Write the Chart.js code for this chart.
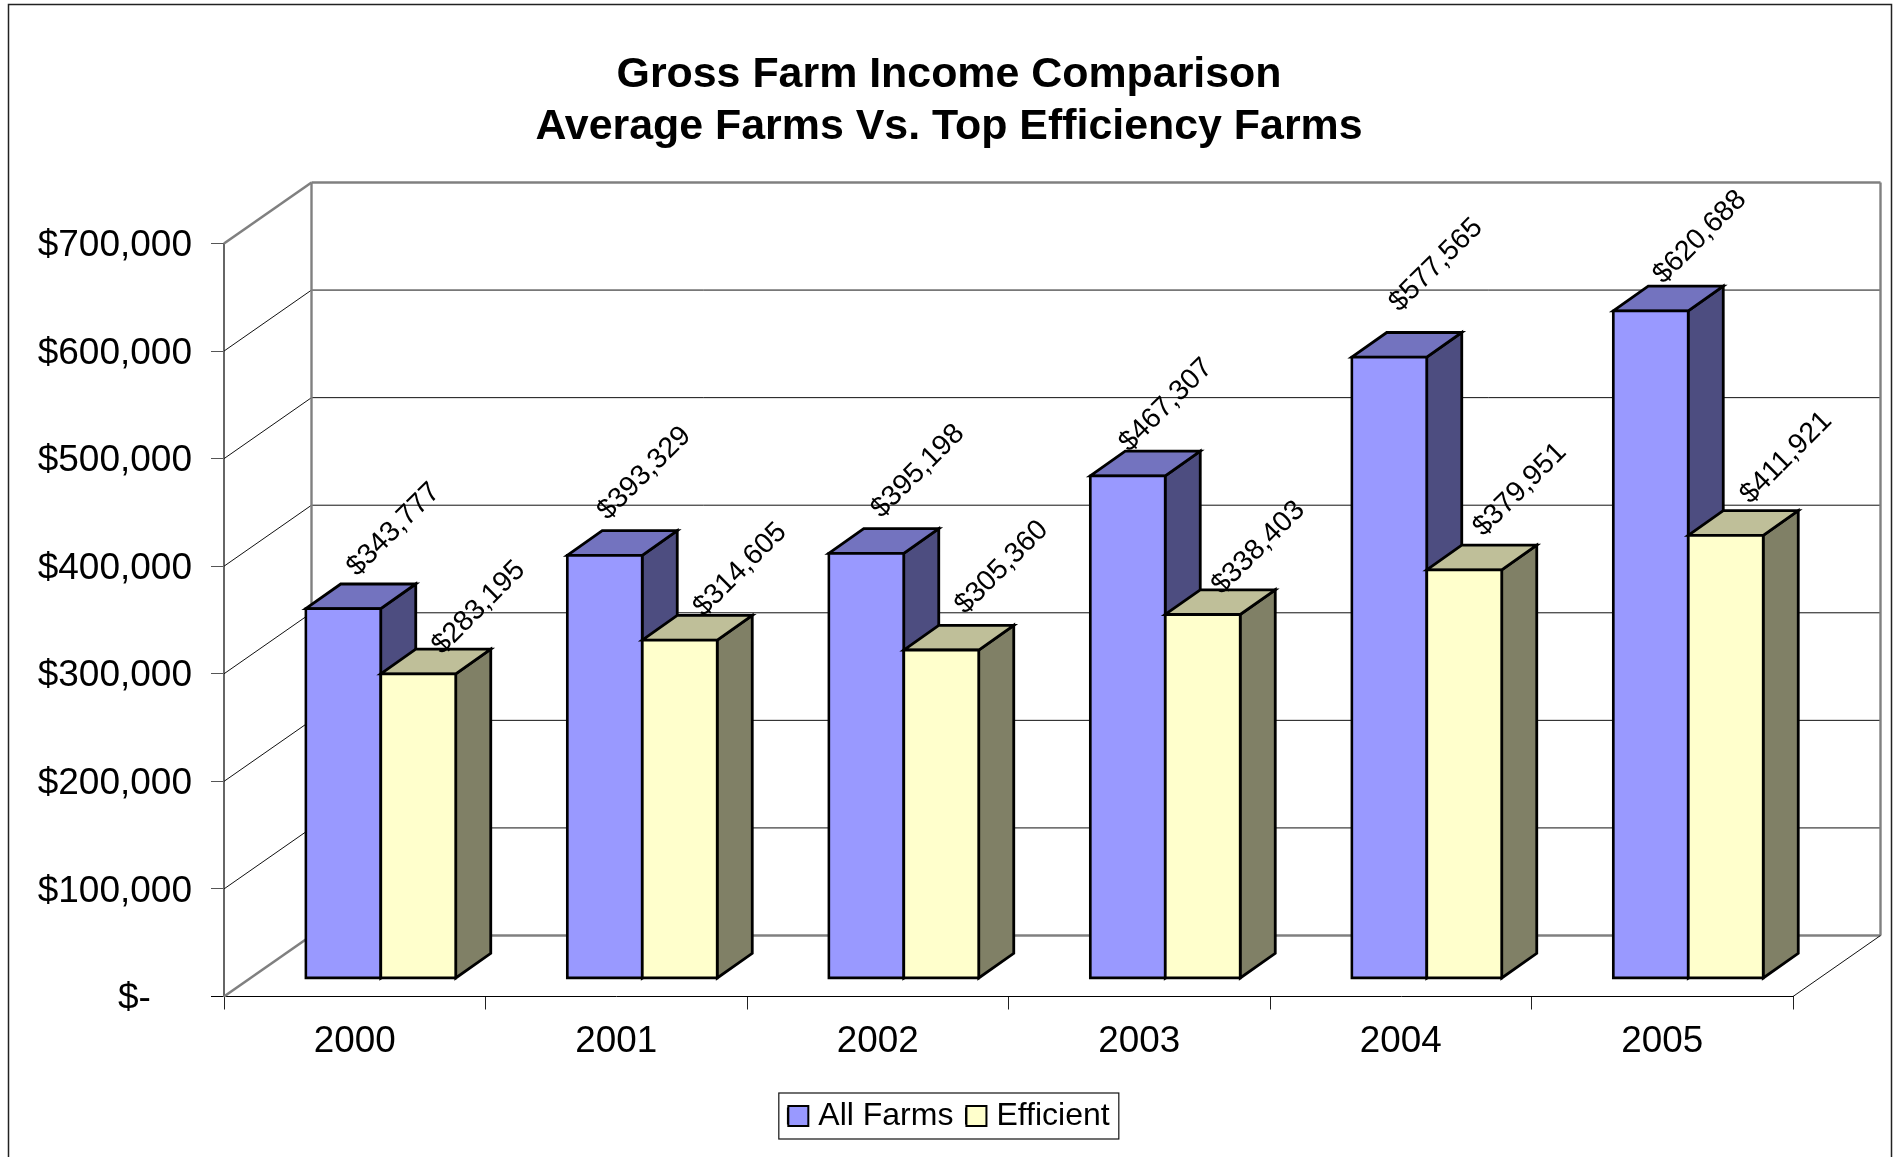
<!DOCTYPE html>
<html><head><meta charset="utf-8">
<style>html,body{margin:0;padding:0;background:#fff}canvas{display:block}</style>
<script src="https://cdn.jsdelivr.net/npm/chart.js@4"></script>
</head><body>
<div style="width:1898px;height:1157px"><canvas id="c" width="1898" height="1157"></canvas></div>
<script>
const years = ['2000','2001','2002','2003','2004','2005'];
const allFarms = [343777,393329,395198,467307,577565,620688];
const efficient = [283195,314605,305360,338403,379951,411921];
const titleLines = ['Gross Farm Income Comparison','Average Farms Vs. Top Efficiency Farms'];
const seriesNames = ['All Farms','Efficient'];
const tickStep = 100000, axisMax = 700000;

const FONT = '"Liberation Sans", Arial, sans-serif';
const WALL = {dx:87.5, dy:-61};     // depth of the floor / side wall
const FRONT = {dx:26, dy:-18};      // front plane of the columns
const BAR = {dx:35, dy:-24.7};      // depth of a column
const FACES = [
  {front:'#9999FF', side:'#4D4D80', top:'#7373BF', lab:{dx:48,dy:-76},
   nudge:[[2.4,-3],[-8.5,-6],[3.6,-6],[-9.7,5.4],[-1.2,-16],[1.2,2.4]]},
  {front:'#FFFFCC', side:'#808066', top:'#BFBF99', lab:{dx:58,dy:-74},
   nudge:[[2.4,7.9],[2.4,3.6],[2.4,-8.5],[-2.4,7.3],[-2.4,-6],[2.4,-3.6]]}
];
const money = v => '$' + v.toLocaleString('en-US');

function line(ctx,x1,y1,x2,y2,color,w){
  ctx.beginPath();ctx.moveTo(x1,y1);ctx.lineTo(x2,y2);
  ctx.strokeStyle=color;ctx.lineWidth=w;ctx.stroke();
}
function poly(ctx,pts,fill){
  ctx.beginPath();pts.forEach((p,i)=>i?ctx.lineTo(p[0],p[1]):ctx.moveTo(p[0],p[1]));ctx.closePath();
  ctx.fillStyle=fill;ctx.fill();
  ctx.strokeStyle='#000';ctx.lineWidth=2.8;ctx.lineJoin='miter';ctx.stroke();
}

const scene3d = {
  id:'scene3d',
  beforeDraw(chart){
    const c=chart.ctx;
    c.save();
    c.fillStyle='#fff';c.fillRect(0,0,chart.width,chart.height);
    c.beginPath();c.moveTo(8.5,1157);c.lineTo(8.5,4.5);c.lineTo(1891.5,4.5);c.lineTo(1891.5,1157);
    c.strokeStyle='#222';c.lineWidth=1.5;c.stroke();
    c.restore();
  },
  beforeDatasetsDraw(chart){
    const c=chart.ctx,{x:xs,y:ys}=chart.scales;
    const L=xs.left,R=xs.right;
    c.save();
    // wall grid
    ys.ticks.forEach(t=>{
      const y=ys.getPixelForValue(t.value);
      const edge=t.value===0||t.value===axisMax;
      const col=edge?'#808080':'#111',w=edge?2.4:1;
      line(c,L,y,L+WALL.dx,y+WALL.dy,col,edge?2.6:1);
      line(c,L+WALL.dx,y+WALL.dy,R+WALL.dx,y+WALL.dy,col,w);
    });
    const top=ys.getPixelForValue(axisMax)+WALL.dy,bot=ys.getPixelForValue(0)+WALL.dy;
    line(c,L+WALL.dx,top,L+WALL.dx,bot,'#808080',2.4);
    line(c,R+WALL.dx,top,R+WALL.dx,bot,'#808080',2.4);
    line(c,R,ys.getPixelForValue(0),R+WALL.dx,bot,'#111',1);
    // columns: library bars shifted to their plane, series drawn left to right
    c.translate(FRONT.dx,FRONT.dy);
    chart.getSortedVisibleDatasetMetas().slice().sort((a,b)=>a.index-b.index).forEach(meta=>{
      const f=FACES[meta.index];
      meta.data.forEach(el=>{
        const p=el.getProps(['x','y','base','width']);
        const l=p.x-p.width/2,r=p.x+p.width/2;
        poly(c,[[r,p.y],[r+BAR.dx,p.y+BAR.dy],[r+BAR.dx,p.base+BAR.dy],[r,p.base]],f.side);
        poly(c,[[l,p.y],[l+BAR.dx,p.y+BAR.dy],[r+BAR.dx,p.y+BAR.dy],[r,p.y]],f.top);
      });
      meta.controller.draw();
    });
    c.restore();
    return false;
  },
  afterDraw(chart){
    const c=chart.ctx;
    c.save();
    // value labels
    chart.getSortedVisibleDatasetMetas().forEach(meta=>{
      const f=FACES[meta.index],vals=chart.data.datasets[meta.index].data;
      meta.data.forEach((el,i)=>{
        c.save();
        c.translate(el.x+FRONT.dx+f.lab.dx+f.nudge[i][0],el.y+FRONT.dy+f.lab.dy+f.nudge[i][1]);
        c.rotate(-45*Math.PI/180);
        c.font='28.5px '+FONT;c.fillStyle='#000';c.textAlign='center';c.textBaseline='middle';
        c.fillText(money(vals[i]),0,0);
        c.restore();
      });
    });
    // legend frame and swatches
    const hb=chart.legend.legendHitBoxes;
    const cy=hb[0].top+hb[0].height/2;
    c.strokeStyle='#111';c.lineWidth=1.2;
    c.strokeRect(hb[0].left-9.5,cy-23,340,46);
    hb.forEach((h,i)=>{
      c.fillStyle=FACES[i].front;c.strokeStyle='#000';c.lineWidth=2;
      c.fillRect(h.left,cy-10,20,20);c.strokeRect(h.left,cy-10,20,20);
    });
    c.restore();
  }
};

const barStyle = {borderColor:'#000',borderWidth:2.8,inflateAmount:1.4,borderSkipped:false};

new Chart(document.getElementById('c'),{
  type:'bar',
  data:{labels:years,datasets:[
    {label:seriesNames[0],data:allFarms,backgroundColor:FACES[0].front,...barStyle},
    {label:seriesNames[1],data:efficient,backgroundColor:FACES[1].front,...barStyle}
  ]},
  options:{
    responsive:false,animation:false,
    devicePixelRatio:1,
    categoryPercentage:150/261.5,barPercentage:1,
    layout:{padding:{left:0,right:0,top:0,bottom:15}},
    plugins:{
      tooltip:{enabled:false},
      title:{display:true,text:titleLines,color:'#000',
        font:{family:FONT,size:42.9,weight:'bold',lineHeight:'52px'},
        padding:{top:49.5,bottom:90}},
      legend:{display:true,position:'bottom',
        labels:{font:{family:FONT,size:32},color:'#000',boxWidth:14,boxHeight:14,padding:13}}
    },
    scales:{
      x:{
        grid:{drawOnChartArea:false,drawTicks:true,tickLength:13,tickColor:'#222'},
        border:{color:'#000',width:1},
        ticks:{font:{family:FONT,size:36.8},color:'#000',padding:10,maxRotation:0,autoSkip:false},
        afterFit(s){s.height=90.5;}
      },
      y:{
        min:0,max:axisMax,
        grid:{drawOnChartArea:false,drawTicks:true,tickLength:13,tickColor:c=>c.tick&&c.tick.value===0?'#000':'#555'},
        border:{color:'#666',width:2},
        ticks:{stepSize:tickStep,font:{family:FONT,size:37},color:'#000',padding:19,labelOffset:2.5,
          callback:v=>v===0?'$-\u00A0\u00A0\u00A0\u00A0':money(v)},
        afterFit(s){s.width=224;}
      },
      rightMargin:{
        axis:'y',position:'right',display:true,
        grid:{display:false},border:{display:false},ticks:{display:false},
        afterFit(s){s.width=105;}
      }
    }
  },
  plugins:[scene3d]
});
</script>
</body></html>
